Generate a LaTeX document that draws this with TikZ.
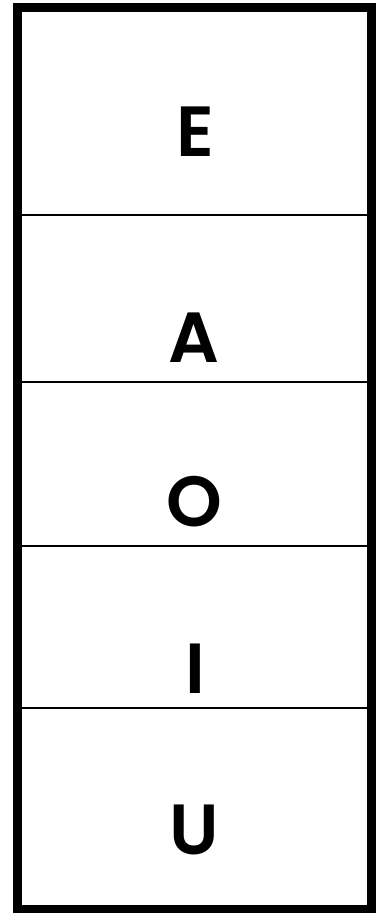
\documentclass[tikz,border=0pt]{standalone}
\usepackage{fontspec}
\setmainfont{Poppins}[UprightFont=* SemiBold]
\begin{document}
\begin{tikzpicture}[x=1pt,y=-1pt,
  letter/.style={anchor=base,inner sep=0pt,font=\fontsize{71}{71}\selectfont},
  divider/.style={line width=2pt}]
\useasboundingbox (0,0) rectangle (384,913);
\coordinate (tl) at (17.5,7.5);
\coordinate (br) at (371.5,909);
\draw[line width=8.5pt] (tl) rectangle (br);
\foreach \y/\n in {214.5/a,381.5/b,546/c,707.5/d}{
  \coordinate (\n l) at (21,\y);
  \coordinate (\n r) at (368,\y);
  \draw[divider] (\n l) -- (\n r);
}
\node[letter] (e) at (195,156) {E};
\node[letter] (a) at (194,362) {A};
\node[letter] (o) at (194,526) {O};
\node[letter] (i) at (195,693) {I};
\node[letter] (u) at (194,854) {U};
\end{tikzpicture}
\end{document}
